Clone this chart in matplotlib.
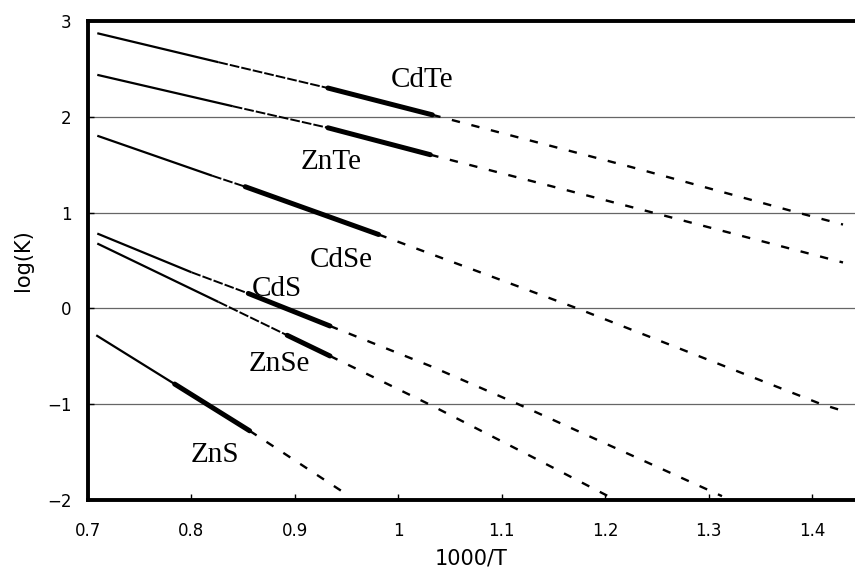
import matplotlib
matplotlib.use("Agg")
import matplotlib.pyplot as plt

plt.rcParams['lines.scale_dashes'] = False

# Break points per compound: [start, pre-dash start, thick start, thick end, ...extrapolated dashed points]
names = ["CdTe", "ZnTe", "CdSe", "CdS", "ZnSe", "ZnS"]
cdte_x = [0.709, 0.826, 0.932, 1.033, 1.224, 1.386, 1.430]
cdte_y = [2.872, 2.570, 2.300, 2.020, 1.479, 1.000, 0.875]
znte_x = [0.709, 0.840, 0.932, 1.031, 1.246, 1.430]
znte_y = [2.4375, 2.110, 1.885, 1.604, 1.000, 0.479]
cdse_x = [0.709, 0.820, 0.852, 0.981, 1.173, 1.409, 1.430]
cdse_y = [1.802, 1.385, 1.270, 0.771, 0.000, -1.000, -1.070]
cds_x = [0.709, 0.800, 0.855, 0.934, 1.0315, 1.116, 1.313]
cds_y = [0.781, 0.377, 0.156, -0.184, -0.604, -1.000, -1.960]
znse_x = [0.709, 0.826, 0.8926, 0.934, 1.0315, 1.1276, 1.202]
znse_y = [0.677, 0.068, -0.281, -0.497, -1.010, -1.540, -1.955]
zns_x = [0.708, 0.7838, 0.7838, 0.8563, 0.952]
zns_y = [-0.281, -0.790, -0.790, -1.278, -1.955]
series_x = [cdte_x, znte_x, cdse_x, cds_x, znse_x, zns_x]
series_y = [cdte_y, znte_y, cdse_y, cds_y, znse_y, zns_y]

label_x = [1.023, 0.935, 0.945, 0.883, 0.885, 0.823]
label_y = [2.31, 1.45, 0.43, 0.125, -0.655, -1.60]

xticks = [0.7, 0.8, 0.9, 1.0, 1.1, 1.2, 1.3, 1.4]
xticklabels = ["0.7", "0.8", "0.9", "1", "1.1", "1.2", "1.3", "1.4"]
yticks = [-2, -1, 0, 1, 2, 3]
yticklabels = ["\u22122", "\u22121", "0", "1", "2", "3"]

fig = plt.figure(figsize=(8.55, 5.76), dpi=100)
ax = fig.add_axes([0.1029, 0.132, 0.8971, 0.8316])

for xs, ys in zip(series_x, series_y):
    # thin solid part
    ax.plot(xs[0:2], ys[0:2], color='black', lw=1.6, solid_capstyle='butt')
    # finely dashed part before experimental range
    ax.plot(xs[1:3], ys[1:3], color='black', lw=1.4, dashes=(7, 1.5))
    # thick experimental range
    ax.plot(xs[2:4], ys[2:4], color='black', lw=3.6, solid_capstyle='round')
    # dashed extrapolation
    ax.plot(xs[3:], ys[3:], color='black', lw=1.7, dashes=(6, 8.5))

for n, lx, ly in zip(names, label_x, label_y):
    ax.text(lx, ly, n, ha='center', va='baseline', fontsize=21,
            family='Liberation Serif', color='black')

ax.set_xlim(0.7, 1.4416)
ax.set_ylim(-2, 3)
ax.set_xticks(xticks)
ax.set_xticklabels(xticklabels)
ax.set_yticks(yticks)
ax.set_yticklabels(yticklabels)

for yv in [-1, 0, 1, 2]:
    ax.axhline(yv, color='#666666', lw=0.9, zorder=0)

for s in ['left', 'top', 'bottom']:
    ax.spines[s].set_linewidth(2.8)
ax.spines['right'].set_visible(False)

ax.tick_params(axis='both', direction='in', length=4, width=1, labelsize=12)
ax.tick_params(axis='x', pad=16)
ax.tick_params(axis='y', pad=12)

ax.set_xlabel("1000/T", fontsize=15, labelpad=6)
ax.set_ylabel("log(K)", fontsize=15, labelpad=10)

fig.savefig("out.png", dpi=100)
